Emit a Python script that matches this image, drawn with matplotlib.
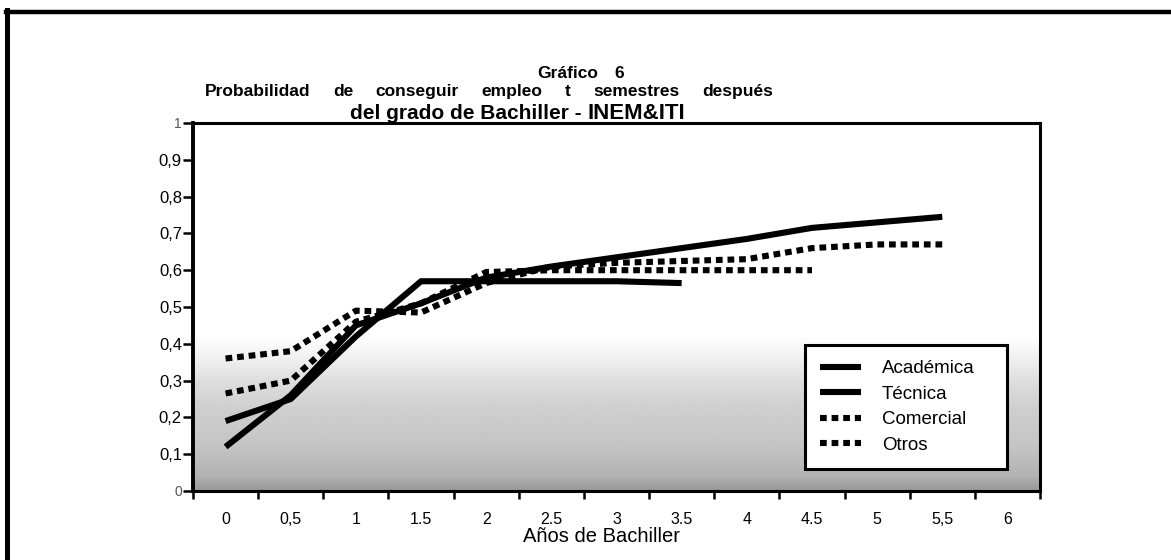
import numpy as np
import matplotlib.pyplot as plt
from matplotlib.lines import Line2D

# figure size in pixels (dpi 100)
W, H = 1171, 560

x_labels = ["0", "0,5", "1", "1.5", "2", "2.5", "3", "3.5", "4", "4.5", "5", "5,5", "6"]
y_labels = ["0", "0,1", "0,2", "0,3", "0,4", "0,5", "0,6", "0,7", "0,8", "0,9", "1"]

# probabilities, one value per half year
academica = [0.19, 0.25, 0.42, 0.57, 0.57, 0.57, 0.57, 0.565]
tecnica = [0.12, 0.26, 0.45, 0.51, 0.58, 0.61, 0.635, 0.66, 0.685, 0.715, 0.73, 0.745]
comercial = [0.36, 0.38, 0.49, 0.485, 0.565, 0.61, 0.62, 0.625, 0.63, 0.66, 0.67, 0.67]
otros = [0.265, 0.30, 0.46, 0.51, 0.595, 0.60, 0.60, 0.60, 0.60, 0.60]

title_1 = ["Gráfico", "6"]
title_2 = ["Probabilidad", "de", "conseguir", "empleo", "t", "semestres", "después"]
title_3 = ["del grado de Bachiller - ", "INEM&ITI"]


def fx(px):
    return px / W


def fy(py):
    return 1 - py / H


def spread_words(fig, words, x0, x1, y, sizes, families, gap=None):
    """Lay out words left to right; fill x0..x1 or use a fixed gap centred there."""
    texts = [fig.text(0, fy(y), w, fontsize=s, fontweight="bold", family=f,
                      ha="left", va="baseline")
             for w, s, f in zip(words, sizes, families)]
    fig.canvas.draw()
    widths = [t.get_window_extent().width for t in texts]
    if gap is None:
        gap = (x1 - x0 - sum(widths)) / max(len(words) - 1, 1)
        x = x0
    else:
        total = sum(widths) + gap * (len(words) - 1)
        x = (x0 + x1 - total) / 2
    for t, wd in zip(texts, widths):
        t.set_x(fx(x))
        x += wd + gap


plt.rcParams["font.family"] = ["Liberation Sans", "DejaVu Sans"]

fig = plt.figure(figsize=(W / 100, H / 100), dpi=100)
ax = fig.add_axes([fx(193), fy(491), fx(1040) - fx(193), fy(123) - fy(491)])

# faint grey wash from the scan at the bottom of the plot area
yy = np.linspace(0, 1, 300)
shade = np.interp(yy, [0, 0.04, 0.12, 0.22, 0.3, 0.36, 0.42, 1],
                  [0.6, 0.7, 0.77, 0.81, 0.87, 0.94, 1, 1])
ax.imshow(shade[:, None], extent=(-0.5, 12.5, 0, 1), origin="lower",
          aspect="auto", cmap="gray", vmin=0, vmax=1, zorder=0)

lw = 4.4
ax.plot(np.arange(len(academica)), academica, color="black", lw=lw,
        solid_capstyle="butt", label="Académica", zorder=3)
ax.plot(np.arange(len(tecnica)), tecnica, color="black", lw=lw,
        solid_capstyle="butt", label="Técnica", zorder=3)
ax.plot(np.arange(len(comercial)), comercial, color="black", lw=lw,
        linestyle=(0, (1.1, 0.8)), dash_capstyle="butt", label="Comercial", zorder=3)
ax.plot(np.arange(len(otros)), otros, color="black", lw=lw,
        linestyle=(0, (1.1, 0.8)), dash_capstyle="butt", label="Otros", zorder=3)

ax.set_xlim(-0.5, 12.5)
ax.set_ylim(0, 1)

ax.set_xticks(np.arange(len(x_labels)))
ax.set_xticklabels(x_labels, fontsize=11.5)
ax.set_xticks(np.arange(len(x_labels) + 1) - 0.5, minor=True)
ax.tick_params(axis="x", which="major", length=0, pad=15)
ax.tick_params(axis="x", which="minor", length=6, width=1.8, direction="out")

ax.set_yticks(np.linspace(0, 1, 11))
ax.set_yticklabels(y_labels, fontsize=12)
ax.tick_params(axis="y", length=7, width=1.8, direction="out", pad=1)
for lab in (ax.get_yticklabels()[0], ax.get_yticklabels()[-1]):
    lab.set_fontsize(10)
    lab.set_color("#555555")

for side in ["top", "right", "bottom"]:
    ax.spines[side].set_linewidth(2.2)
ax.spines["left"].set_linewidth(2.8)

leg = ax.legend(loc="upper left",
                bbox_to_anchor=(fx(805), fy(467), fx(1007) - fx(805), fy(345) - fy(467)),
                bbox_transform=fig.transFigure, mode="expand", fontsize=13.5,
                frameon=True, fancybox=False, framealpha=1, edgecolor="black",
                handlelength=2.2, handletextpad=1.1, labelspacing=0.45,
                borderpad=0.8, borderaxespad=0)
leg.get_frame().set_linewidth(2.2)

fig.text(fx(601), fy(537), "Años de Bachiller", fontsize=14.5, ha="center", va="center")

# title, words spread out as on the original page (y given as baselines)
sans = ["Liberation Sans", "DejaVu Sans"]
narrow = ["Liberation Sans Narrow", "Liberation Sans", "DejaVu Sans"]
spread_words(fig, title_1, 537, 624, 78, [12.5, 12.5], [sans, sans])
spread_words(fig, title_2, 205, 773, 96, [12.5] * len(title_2), [sans] * len(title_2))
spread_words(fig, title_3, 290, 745, 119, [15, 16], [sans, narrow], gap=0)

# page rules from the scanned sheet
fig.add_artist(Line2D([fx(6), fx(1171)], [fy(12), fy(12)], color="black", lw=3.2))
fig.add_artist(Line2D([fx(7), fx(7)], [fy(10), fy(560)], color="black", lw=3.6))

fig.savefig("out.png", dpi=100)
